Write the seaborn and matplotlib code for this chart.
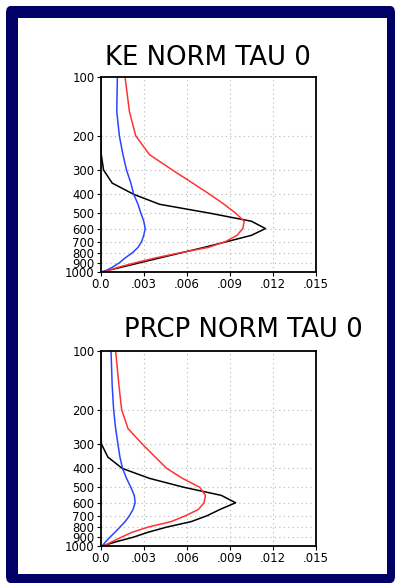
import matplotlib
matplotlib.use("Agg")
import matplotlib.pyplot as plt
from matplotlib.patches import FancyBboxPatch, Rectangle
import seaborn as sns
import pandas as pd

# ---- data ----
levels = [1000, 950, 900, 850, 800, 750, 700, 650, 600, 550, 500, 450, 400, 350, 300, 250, 200, 150, 100]

ke_black = [0.0001, 0.0014, 0.0027, 0.0041, 0.0056, 0.0072, 0.0088, 0.0105, 0.01148, 0.0105, 0.0076, 0.0041, 0.0023, 0.0008, 0.0002, 0.00004, 0.0, 0.0, 0.0]
ke_blue = [0.0002, 0.0008, 0.0013, 0.0017, 0.0022, 0.0026, 0.00285, 0.0030, 0.0031, 0.0030, 0.0028, 0.0026, 0.0023, 0.0021, 0.0018, 0.00155, 0.0013, 0.00112, 0.00116]
ke_red = [0.0003, 0.0012, 0.0024, 0.0038, 0.0055, 0.0075, 0.0087, 0.0095, 0.0099, 0.0100, 0.0094, 0.0086, 0.0076, 0.0064, 0.0050, 0.0034, 0.00244, 0.0020, 0.0017]

pr_black = [0.0001, 0.0011, 0.0023, 0.0033, 0.0046, 0.0063, 0.0074, 0.0083, 0.0094, 0.0084, 0.0058, 0.0034, 0.0015, 0.0005, 0.00005, 0.0, 0.0, 0.0, 0.0]
pr_blue = [0.0001, 0.00035, 0.00065, 0.0010, 0.00134, 0.0017, 0.0020, 0.00225, 0.0024, 0.00234, 0.0021, 0.0018, 0.00152, 0.00134, 0.0012, 0.00104, 0.0009, 0.0008, 0.00072]
pr_red = [0.0002, 0.0008, 0.00146, 0.0022, 0.0033, 0.0049, 0.0059, 0.0068, 0.0072, 0.0073, 0.0069, 0.0057, 0.0046, 0.0038, 0.0029, 0.0019, 0.00146, 0.00127, 0.00104]

titles = ["KE NORM TAU 0", "PRCP NORM TAU 0"]
xticks = [0.0, 0.003, 0.006, 0.009, 0.012, 0.015]
xticklabels = ["0.0", ".003", ".006", ".009", ".012", ".015"]
yticks = [100, 200, 300, 400, 500, 600, 700, 800, 900, 1000]
yticklabels = [str(v) for v in yticks]

colors = {"black": "#000000", "blue": "#2a45ff", "red": "#ff3333"}

sns.set_theme(style="white")
plt.rcParams["font.family"] = ["DejaVu Sans"]

W, H = 395, 583
fig = plt.figure(figsize=(W / 100, H / 100), dpi=100)
fig.patch.set_facecolor("white")

# navy frame
frame = FancyBboxPatch((6 / W, 0.0), (W - 6) / W, (H - 6) / H,
                       boxstyle="round,pad=0,rounding_size=0.012",
                       transform=fig.transFigure, facecolor="#000066",
                       edgecolor="none", zorder=0)
fig.patches.append(frame)
inner = Rectangle((18 / W, 1 - 574 / H), 369 / W, 556 / H,
                  transform=fig.transFigure, facecolor="white",
                  edgecolor="none", zorder=1)
fig.patches.append(inner)


def make_df(b, bl, r):
    rows = []
    for name, vals in (("black", b), ("blue", bl), ("red", r)):
        for lv, v in zip(levels, vals):
            rows.append({"level": lv, "value": v, "series": name})
    return pd.DataFrame(rows)


panels = [
    (make_df(ke_black, ke_blue, ke_red), 77.3, 271.7, titles[0], 207.5, 65.0),
    (make_df(pr_black, pr_blue, pr_red), 351.0, 546.0, titles[1], 243.0, 337.3),
]

for df, top, bot, title, tx, tbase in panels:
    ax = fig.add_axes([100.7 / W, 1 - bot / H, 215.3 / W, (bot - top) / H])
    ax.set_facecolor("white")
    ax.set_zorder(2)
    sns.lineplot(data=df, x="value", y="level", hue="series",
                 hue_order=["black", "blue", "red"], palette=colors,
                 sort=False, estimator=None, orient="y", legend=False,
                 linewidth=1.1, ax=ax)
    ax.set_yscale("log")
    ax.set_ylim(1000, 100)
    ax.set_xlim(0, 0.015)
    ax.set_yticks(yticks)
    ax.set_yticklabels(yticklabels)
    ax.yaxis.set_minor_locator(matplotlib.ticker.NullLocator())
    ax.set_xticks(xticks)
    ax.set_xticklabels(xticklabels)
    ax.set_xlabel("")
    ax.set_ylabel("")
    ax.tick_params(axis="both", which="major", direction="out", length=3,
                   width=0.8, color="black", labelsize=8.4, pad=1.5,
                   labelcolor="black", left=True, bottom=True)
    for v in xticks[1:-1]:
        ax.axvline(v, color="#b5b5b5", linestyle=(0, (1, 3)), linewidth=0.8, zorder=0)
    for v in yticks[1:-1]:
        ax.axhline(v, color="#b5b5b5", linestyle=(0, (1, 3)), linewidth=0.8, zorder=0)
    for s in ax.spines.values():
        s.set_visible(True)
        s.set_color("black")
        s.set_linewidth(1.3)
    fig.text(tx / W, 1 - tbase / H, title, ha="center", va="baseline",
             fontsize=18.7, color="black", zorder=3)

fig.savefig("out.png", dpi=100, facecolor="white")
